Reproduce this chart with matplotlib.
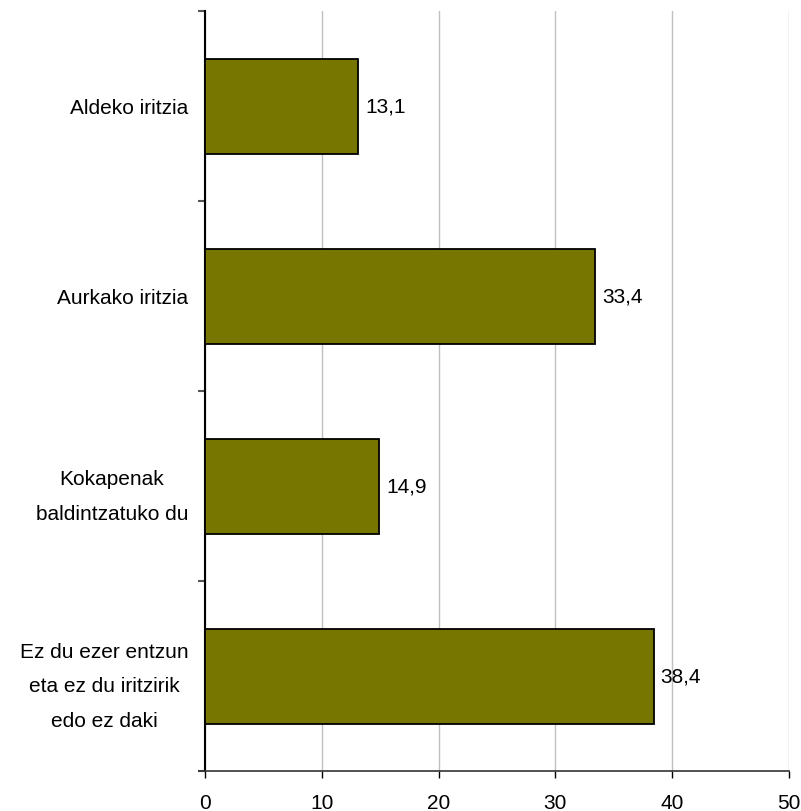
import matplotlib
matplotlib.use("Agg")
import matplotlib.pyplot as plt
import numpy as np

categories = ["Aldeko iritzia", "Aurkako iritzia", "Kokapenak\nbaldintzatuko du",
              "Ez du ezer entzun\neta ez du iritzirik\nedo ez daki"]
values = [13.1, 33.4, 14.9, 38.4]
xticks = [0, 10, 20, 30, 40, 50]

plt.rcParams['font.family'] = ['Liberation Sans', 'DejaVu Sans']
FS = 15

fig = plt.figure(figsize=(8.01, 8.12), dpi=100)
ax = fig.add_axes([205/801, 1-772/812, (789-205)/801, (772-12)/812])

y = np.arange(len(categories))
ax.barh(y, values, height=0.5, color="#767600", edgecolor="black", linewidth=1.3, zorder=3)
for yi, v in zip(y, values):
    ax.text(v + 0.6, yi, f"{v:.1f}".replace(".", ","), va="center", ha="left", fontsize=FS)

ax.set_xlim(0, 50)
ax.set_ylim(len(categories) - 0.5, -0.5)
ax.set_xticks(xticks)
ax.set_xticklabels([str(t) for t in xticks], fontsize=FS)
ax.xaxis.grid(True, color="#c0c0c0", linewidth=1, zorder=0)
ax.set_axisbelow(True)

ax.set_yticks(y)
ax.set_yticklabels(categories, fontsize=FS, ha="right", multialignment="center",
                   linespacing=2.05)
ax.tick_params(axis="y", length=0, pad=12)
ax.set_yticks(np.arange(-0.5, len(categories), 1), minor=True)
ax.tick_params(axis="y", which="minor", length=5, color="#555555", width=1.5, direction="out")
ax.tick_params(axis="x", length=5, width=1, direction="out", pad=11, color="black")

for s in ["top", "right"]:
    ax.spines[s].set_visible(False)
ax.spines["left"].set_color("black")
ax.spines["left"].set_linewidth(1.5)
ax.spines["bottom"].set_color("#333333")
ax.spines["bottom"].set_linewidth(1.2)
ax.spines["bottom"].set_bounds(-0.5, 50)

fig.savefig("out.png", dpi=100)
